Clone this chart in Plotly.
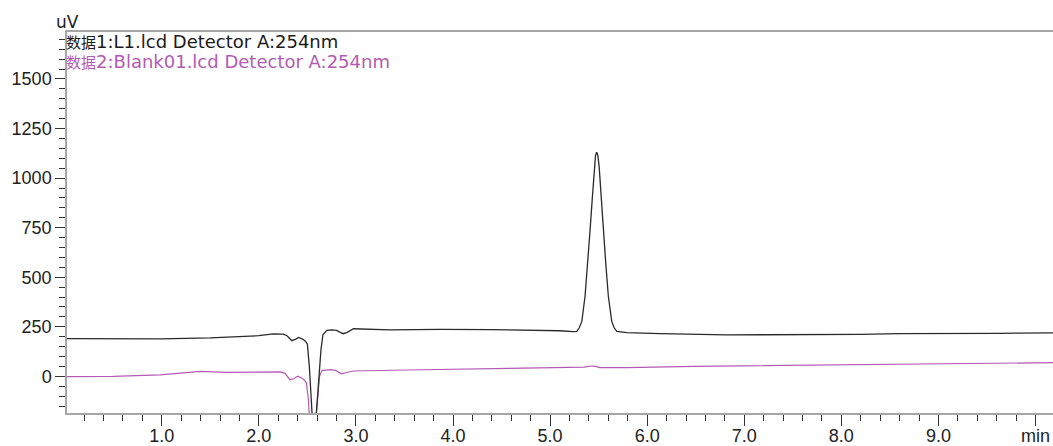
import plotly.graph_objects as go

# Data 1: L1.lcd Detector A:254nm (black)
time1 = [0.02, 0.5, 0.98, 1.5, 1.81, 2.0, 2.15, 2.25, 2.29, 2.34, 2.38, 2.41, 2.45, 2.48, 2.50, 2.52, 2.54,
         2.565, 2.59, 2.615, 2.64, 2.66, 2.70, 2.75, 2.80, 2.84, 2.87, 2.91, 2.975, 3.35, 3.87, 4.38, 4.9,
         5.10, 5.24, 5.275, 5.30, 5.327, 5.36, 5.388, 5.412, 5.436, 5.456, 5.468, 5.48, 5.492, 5.505,
         5.525, 5.549, 5.573, 5.60, 5.635, 5.66, 5.687, 5.79, 6.13, 6.82, 7.33, 7.78, 8.2, 8.6, 9.12,
         9.63, 10.18]
sig1 = [190, 190, 189, 194, 199, 205, 214, 213, 205, 180, 188, 196, 188, 177, 162, 50, -118,
        -330, -200, -33, 135, 210, 232, 234, 232, 222, 215, 222, 240, 234, 237, 236, 234,
        230, 226, 227, 245, 277, 404, 572, 740, 908, 1059, 1114, 1130, 1114, 1059,
        908, 740, 572, 404, 277, 245, 227, 220, 215, 209, 209, 210, 212, 215, 215,
        217, 219]

# Data 2: Blank01.lcd Detector A:254nm (magenta)
time2 = [0.02, 0.5, 0.98, 1.40, 1.67, 2.0, 2.22, 2.27, 2.32, 2.36, 2.40, 2.44, 2.47, 2.49, 2.511,
         2.525, 2.56, 2.59, 2.604, 2.625, 2.65, 2.735, 2.79, 2.82, 2.85, 2.89, 2.975, 3.52, 4.21, 4.9,
         5.21, 5.35, 5.43, 5.47, 5.51, 5.79, 6.48, 7.16, 7.7, 8.6, 9.29, 10.18]
sig2 = [-1, 0, 7, 25, 20, 22, 22, 15, -17, -12, 1, -8, -20, -33, -118,
        -250, -380, -200, -118, 0, 29, 34, 30, 20, 13, 18, 27, 32, 37, 40,
        42, 46, 52, 50, 44, 44, 50, 53, 55, 59, 64, 69]

x_tickvals = [1, 2, 3, 4, 5, 6, 7, 8, 9, 10]
x_ticktext = ["1.0", "2.0", "3.0", "4.0", "5.0", "6.0", "7.0", "8.0", "9.0", "min"]
y_tickvals = [0, 250, 500, 750, 1000, 1250, 1500]
y_ticktext = ["0", "250", "500", "750", "1000", "1250", "1500"]

legend1 = "<span style='font-size:15px'>数据</span>1:L1.lcd Detector A:254nm"
legend2 = "<span style='font-size:15px'>数据</span>2:Blank01.lcd Detector A:254nm"

BLACK = "#2a2a2a"
MAGENTA = "#b45ab4"
AXIS = "#a6a6a6"
TICK = "#333333"

fig = go.Figure()
fig.add_trace(go.Scatter(x=time2, y=sig2, mode="lines", line=dict(color=MAGENTA, width=1.2),
                         hoverinfo="skip"))
fig.add_trace(go.Scatter(x=time1, y=sig1, mode="lines", line=dict(color=BLACK, width=1.3),
                         hoverinfo="skip"))

tickfont = dict(family="Liberation Sans, Arial, sans-serif", size=18, color="#222222")

fig.update_layout(
    width=1053, height=446,
    margin=dict(l=67, r=0, t=32, b=33, pad=0),
    paper_bgcolor="white", plot_bgcolor="white",
    showlegend=False,
    xaxis=dict(
        range=[0.024, 10.18], tickmode="array", tickvals=x_tickvals, ticktext=x_ticktext,
        ticks="outside", ticklen=11, tickwidth=1, tickcolor=TICK, ticklabelstandoff=-5,
        showline=True, linecolor=AXIS, linewidth=1.5, mirror=True,
        showgrid=False, zeroline=False, automargin=False, tickfont=tickfont,
        minor=dict(tickmode="linear", tick0=0, dtick=0.2, ticks="outside", ticklen=6,
                   tickwidth=1, tickcolor=TICK, showgrid=False),
    ),
    yaxis=dict(
        range=[-185, 1737], tickmode="array", tickvals=y_tickvals, ticktext=y_ticktext,
        ticks="outside", ticklen=10, tickwidth=1, tickcolor=TICK,
        showline=True, linecolor=AXIS, linewidth=1.5, mirror=False,
        showgrid=False, zeroline=False, automargin=False, tickfont=tickfont,
        minor=dict(tickmode="linear", tick0=0, dtick=50, ticks="outside", ticklen=6,
                   tickwidth=1, tickcolor=TICK, showgrid=False),
    ),
    annotations=[
        dict(text=legend1, xref="paper", yref="paper", x=0, y=0.976, xanchor="left", yanchor="middle",
             xshift=-3, showarrow=False,
             font=dict(family="DejaVu Sans, Noto Sans CJK SC", size=18, color="#1a1a1a")),
        dict(text=legend2, xref="paper", yref="paper", x=0, y=0.923, xanchor="left", yanchor="middle",
             xshift=-3, showarrow=False,
             font=dict(family="DejaVu Sans, Noto Sans CJK SC", size=18, color=MAGENTA)),
        dict(text="uV", xref="paper", yref="paper", x=0.001, y=1.027, xanchor="center", yanchor="middle",
             showarrow=False, font=dict(family="DejaVu Sans", size=17, color="#222222")),
    ],
)

# remove the browser's default page margin so the figure fills the window exactly
fig.write_html("out.html", config={"displayModeBar": False},
               post_script="document.body.style.margin='0';document.body.style.overflow='hidden';")
